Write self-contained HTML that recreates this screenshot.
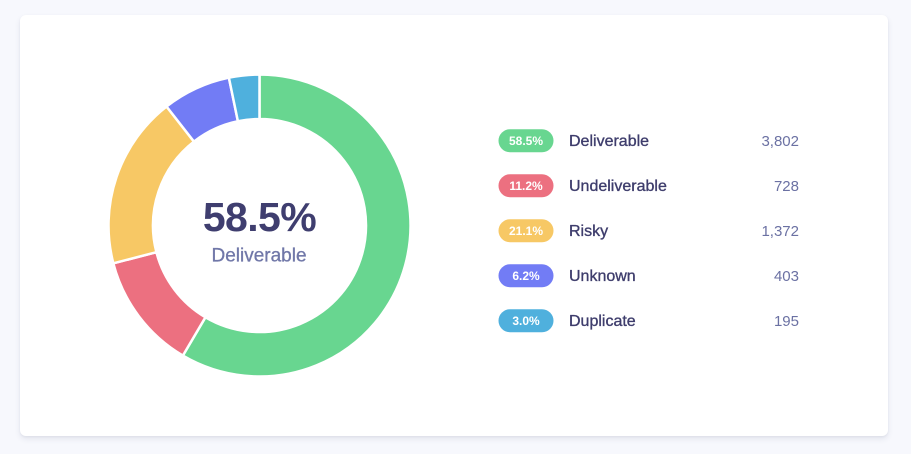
<!DOCTYPE html>
<html>
<head>
<meta charset="utf-8">
<style>
  html, body { margin: 0; padding: 0; }
  body { width: 911px; height: 454px; background: #f7f8fd; overflow: hidden; position: relative; font-family: "Liberation Sans", "DejaVu Sans", sans-serif; }
  .card { position: absolute; left: 20px; top: 15px; width: 868px; height: 421px; background: #ffffff; border-radius: 6px;
          box-shadow: 0 3px 6px rgba(60, 64, 110, 0.10), 0 1px 2px rgba(60,64,110,0.06); }
  svg { position: absolute; left: 0; top: 0; }
</style>
</head>
<body>
<div class="card"></div>
<svg width="911" height="454" viewBox="0 0 911 454" xmlns="http://www.w3.org/2000/svg">
  <g stroke="#ffffff" stroke-width="2.5" stroke-linejoin="miter">
    <path fill="#68d690" d="M259.5 74.5 A151 151 0 1 1 182.87 355.6 L205.45 317.26 A106.5 106.5 0 1 0 259.5 119 Z"/>
    <path fill="#ec7080" d="M182.87 355.6 A151 151 0 0 1 113.32 263.31 L156.40 252.17 A106.5 106.5 0 0 0 205.45 317.26 Z"/>
    <path fill="#f7c865" d="M113.32 263.31 A151 151 0 0 1 166.53 106.51 L193.93 141.58 A106.5 106.5 0 0 0 156.40 252.17 Z"/>
    <path fill="#727cf5" d="M166.53 106.51 A151 151 0 0 1 228.88 77.64 L237.90 121.21 A106.5 106.5 0 0 0 193.93 141.58 Z"/>
    <path fill="#4fb0dd" d="M228.88 77.64 A151 151 0 0 1 259.5 74.5 L259.5 119 A106.5 106.5 0 0 0 237.90 121.21 Z"/>
  </g>
  <text x="259.5" y="231" text-anchor="middle" font-family="Liberation Sans, sans-serif" font-weight="bold" font-size="41" fill="#3f3e6f" letter-spacing="-0.6">58.5%</text>
  <text x="259" y="261.5" text-anchor="middle" font-family="Liberation Sans, sans-serif" font-size="19" fill="#7077a8" stroke="#7077a8" stroke-width="0.3">Deliverable</text>

  <g font-family="Liberation Sans, sans-serif">
    <!-- row 1 -->
    <rect x="498.5" y="129.2" width="55" height="23" rx="11.5" fill="#68d690"/>
    <text x="526" y="145" text-anchor="middle" font-weight="bold" font-size="12" fill="#ffffff">58.5%</text>
    <text x="569" y="146.2" font-size="16" fill="#3e3d6c" stroke="#3e3d6c" stroke-width="0.35">Deliverable</text>
    <text x="799" y="146" text-anchor="end" font-size="15" fill="#6b71a3">3,802</text>
    <!-- row 2 -->
    <rect x="498.5" y="174.2" width="55" height="23" rx="11.5" fill="#ec7080"/>
    <text x="526" y="190" text-anchor="middle" font-weight="bold" font-size="12" fill="#ffffff">11.2%</text>
    <text x="569" y="191.2" font-size="16" fill="#3e3d6c" stroke="#3e3d6c" stroke-width="0.35">Undeliverable</text>
    <text x="799" y="191" text-anchor="end" font-size="15" fill="#6b71a3">728</text>
    <!-- row 3 -->
    <rect x="498.5" y="219.2" width="55" height="23" rx="11.5" fill="#f7c865"/>
    <text x="526" y="235" text-anchor="middle" font-weight="bold" font-size="12" fill="#ffffff">21.1%</text>
    <text x="569" y="236.2" font-size="16" fill="#3e3d6c" stroke="#3e3d6c" stroke-width="0.35">Risky</text>
    <text x="799" y="236" text-anchor="end" font-size="15" fill="#6b71a3">1,372</text>
    <!-- row 4 -->
    <rect x="498.5" y="264.2" width="55" height="23" rx="11.5" fill="#727cf5"/>
    <text x="526" y="280" text-anchor="middle" font-weight="bold" font-size="12" fill="#ffffff">6.2%</text>
    <text x="569" y="281.2" font-size="16" fill="#3e3d6c" stroke="#3e3d6c" stroke-width="0.35">Unknown</text>
    <text x="799" y="281" text-anchor="end" font-size="15" fill="#6b71a3">403</text>
    <!-- row 5 -->
    <rect x="498.5" y="309.2" width="55" height="23" rx="11.5" fill="#4fb0dd"/>
    <text x="526" y="325" text-anchor="middle" font-weight="bold" font-size="12" fill="#ffffff">3.0%</text>
    <text x="569" y="326.2" font-size="16" fill="#3e3d6c" stroke="#3e3d6c" stroke-width="0.35">Duplicate</text>
    <text x="799" y="326" text-anchor="end" font-size="15" fill="#6b71a3">195</text>
  </g>
</svg>
</body>
</html>
